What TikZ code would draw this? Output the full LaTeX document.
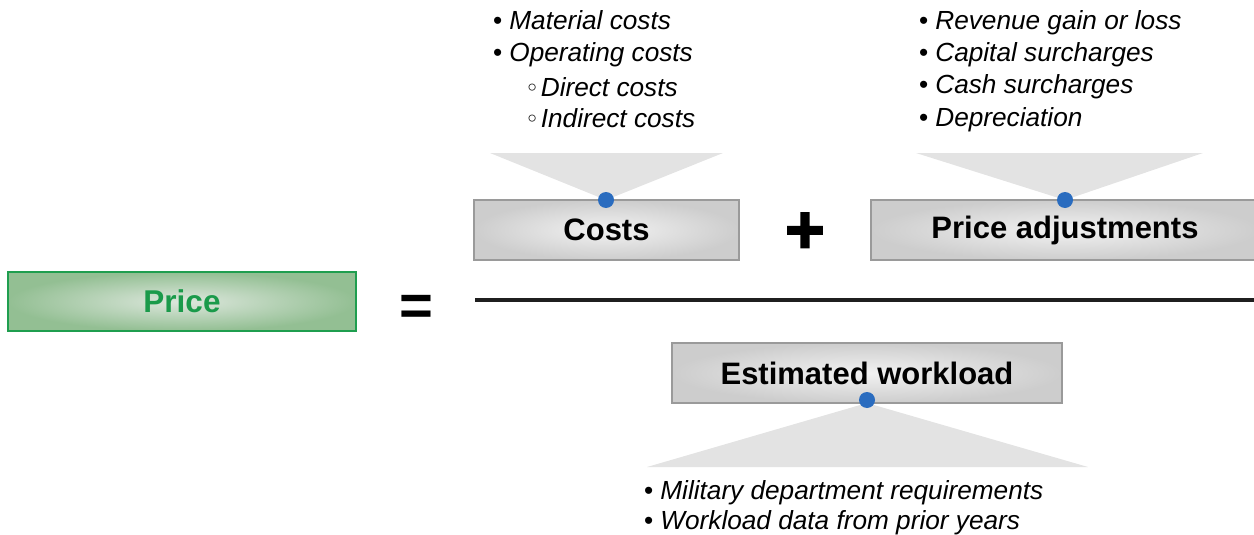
\documentclass[tikz,border=0pt]{standalone}
\usepackage{fontspec}
\setmainfont{Liberation Sans}
\newfontfamily\dejavu{DejaVu Sans}
\newfontfamily\heavy[FakeBold=2.5]{Liberation Sans Bold}
\newcommand\wbul{{\upshape\dejavu\fontsize{24}{26}\selectfont◦}}
\newcommand\bbul{{\upshape•}}
\begin{document}
\begin{tikzpicture}[x=1pt,y=-1pt,
  box/.style={draw=boxgray,line width=2.5pt,shading=radial,inner color=boxin,outer color=boxout,font=\fontsize{31}{34}\selectfont\bfseries,text=black,inner sep=0pt},
  pbox/.style={draw=pgreen,line width=2.5pt,shading=radial,inner color=pin,outer color=pout,font=\fontsize{31.5}{34}\selectfont\bfseries,text=ptext,inner sep=0pt},
  tri/.style={fill=trigray,draw=none},
  dot/.style={circle,fill=dotblue,draw=none,minimum size=16pt,inner sep=0pt},
  item/.style={anchor=base west,inner sep=0pt,font=\fontsize{26.2}{30}\selectfont\itshape}
]
\definecolor{boxgray}{HTML}{9A9A9A}
\definecolor{boxin}{HTML}{F2F2F2}
\definecolor{boxout}{HTML}{CDCDCD}
\definecolor{pgreen}{HTML}{1F9E4F}
\definecolor{pin}{HTML}{DDE7DD}
\definecolor{pout}{HTML}{93BF93}
\definecolor{ptext}{HTML}{1A9A4A}
\definecolor{trigray}{HTML}{E3E3E3}
\definecolor{dotblue}{HTML}{2A6CBF}
\useasboundingbox (0,0) rectangle (1254,535);

% triangles
\fill[tri] (490,153) -- (723,153) -- (606,200) -- cycle;
\fill[tri] (916,153) -- (1203,153) -- (1065,200) -- cycle;
\fill[tri] (647,467) -- (1088,467) -- (867,403) -- cycle;

% boxes
\node[pbox,minimum width=348pt,minimum height=59pt] (price) at (182,301.5) {Price};
\node[box,minimum width=265pt,minimum height=60pt] (costs) at (606.5,230) {Costs};
\node[box,minimum width=388pt,minimum height=60pt] (padj) at (1065,230) {Price adjustments};
\node[box,minimum width=390pt,minimum height=60pt] (work) at (867,373) {Estimated workload};

% operators
\node[font=\fontsize{58}{60}\selectfont\bfseries,inner sep=0pt] (eq) at (416,310) {=};
\node[font=\fontsize{68}{70}\selectfont\heavy,inner sep=0pt] (plus) at (805,233) {+};

% fraction line
\coordinate (la) at (475,300);
\coordinate (lb) at (1260,300);
\draw[line width=4pt,color=black!88] (la) -- (lb);

% dots
\node[dot] (d1) at (606,200) {};
\node[dot] (d2) at (1065,200) {};
\node[dot] (d3) at (867,400) {};

% cost items
\node[item] (c1) at (493,30) {\bbul\hspace{7pt}Material costs};
\node[item] (c2) at (493,62) {\bbul\hspace{7pt}Operating costs};
\node[item] (c3) at (525,96) {\wbul\hspace{1.5pt}Direct costs};
\node[item] (c4) at (525,128) {\wbul\hspace{1.5pt}Indirect costs};

% price adjustment items
\node[item] (p1) at (919,30) {\bbul\hspace{7pt}Revenue gain or loss};
\node[item] (p2) at (919,62) {\bbul\hspace{7pt}Capital surcharges};
\node[item] (p3) at (919,94) {\bbul\hspace{7pt}Cash surcharges};
\node[item] (p4) at (919,126) {\bbul\hspace{7pt}Depreciation};

% workload items
\node[item] (w1) at (644,499) {\bbul\hspace{7pt}Military department requirements};
\node[item] (w2) at (644,529) {\bbul\hspace{7pt}Workload data from prior years};
\end{tikzpicture}
\end{document}
